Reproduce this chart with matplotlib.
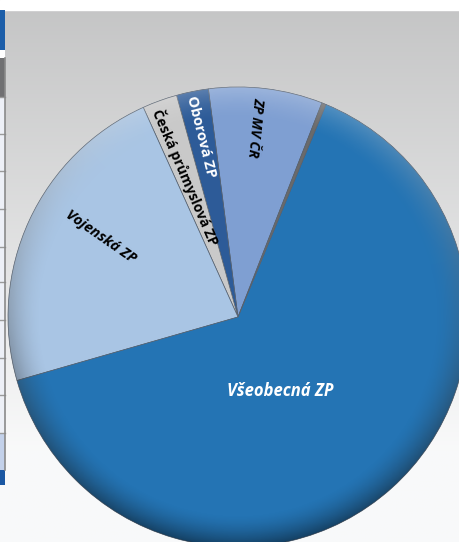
import numpy as np
import matplotlib
matplotlib.use("Agg")
import matplotlib.pyplot as plt
from matplotlib.patches import Rectangle, Circle

# data (share of insured, %)
insurers = ["ZP MV ČR", "Oborová ZP", "Česká průmyslová ZP", "Vojenská ZP", "Všeobecná ZP", ""]
shares = [8.0, 2.25, 2.45, 22.7, 64.3, 0.3]

colors = ["#7f9fd2", "#2d5b98", "#c9c9c9", "#a9c5e4", "#2474b4", "#6a6a6a"]
# label style: radius fraction, angle tweak, rotation, text colour, italic?, size
label_style = [
    (0.83, 1.9, -95.6, "black", "italic", 10),
    (0.80, 0.0, -76.0, "white", "normal", 10.5),
    (0.65, 0.8, -66.8, "black", "normal", 10),
    (0.69, -5.4, -34.8, "black", "italic", 10.5),
    (0.37, -12.4, 0, "white", "italic", 12),
    None,
]

W, H = 459, 542
fig = plt.figure(figsize=(W / 100, H / 100), dpi=100)
ax = fig.add_axes([0, 0, 1, 1])

# background gradient (dark grey at the top, almost white at the bottom)
yy = np.linspace(0, 1, 300)[:, None]
g = np.clip(197 + (250 - 197) * yy / 0.83, 197, 250) / 255.0
g = np.repeat(g, 2, axis=1)
bg = np.dstack([g - 0.004, g - 0.002, g])
ax.imshow(bg, extent=[0, W, 0, H], origin="upper", aspect="auto", zorder=0)
ax.add_patch(Rectangle((0, H - 10), W, 10, color="white", zorder=1))

# bit of a table on the left edge
def band(y0, y1, c):
    ax.add_patch(Rectangle((0, H - y1), 5, y1 - y0, color=c, zorder=1, lw=0))
band(10, 50, "#1c5ea9")
band(50, 58, "white")
band(58, 97, "#707072")
band(97, 433, "#edf0f7")
band(433, 470, "#c3d1ea")
band(470, 485, "#1b58a3")
for yl in [97, 134, 171, 209, 247, 282, 320, 358, 395, 433]:
    ax.plot([0, 5], [H - yl, H - yl], color="#9a9a9a", lw=1, zorder=2)
ax.plot([5, 5], [H - 470, H - 58], color="#8a8a8a", lw=1.2, zorder=2)

cx, cy, R = 238, H - 317, 230
wedges, _ = ax.pie(shares, colors=colors, startangle=68.6, counterclock=True,
                   center=(cx, cy), radius=R,
                   wedgeprops=dict(edgecolor="#55606e", linewidth=0.5))
for w in wedges:
    w.set_zorder(3)

# rim shading: darker at the bottom, lighter at the top
xs = np.linspace(cx - R, cx + R, 400)
ys = np.linspace(cy + R, cy - R, 400)
X, Y = np.meshgrid(xs, ys)
rr = np.hypot(X - cx, Y - cy) / R
th = np.arctan2(Y - cy, X - cx)
t = np.clip((rr - 0.86) / 0.14, 0, 1) ** 1.6
dark = t * 0.45 * (0.5 - 0.5 * np.sin(th))
light = t * 0.22 * (0.5 + 0.5 * np.sin(th))
shade = np.zeros((400, 400, 4))
a = dark + light
shade[..., 0] = shade[..., 1] = shade[..., 2] = np.where(a > 0, light / np.maximum(a, 1e-6), 0)
shade[..., 3] = a
im = ax.imshow(shade, extent=[cx - R, cx + R, cy - R, cy + R], zorder=4)
im.set_clip_path(Circle((cx, cy), R, transform=ax.transData))

for w, name, st in zip(wedges, insurers, label_style):
    if st is None:
        continue
    frac, tweak, rot, col, style, size = st
    mid = np.deg2rad((w.theta1 + w.theta2) / 2 + tweak)
    ax.text(cx + frac * R * np.cos(mid), cy + frac * R * np.sin(mid), name,
            rotation=rot, rotation_mode="anchor", ha="center", va="center",
            color=col, fontsize=size, fontstyle=style, fontweight="bold",
            family=["Open Sans", "DejaVu Sans"], zorder=5)

ax.set_xlim(0, W)
ax.set_ylim(0, H)
ax.set_aspect("auto")
ax.axis("off")
fig.savefig("out.png", dpi=100)
